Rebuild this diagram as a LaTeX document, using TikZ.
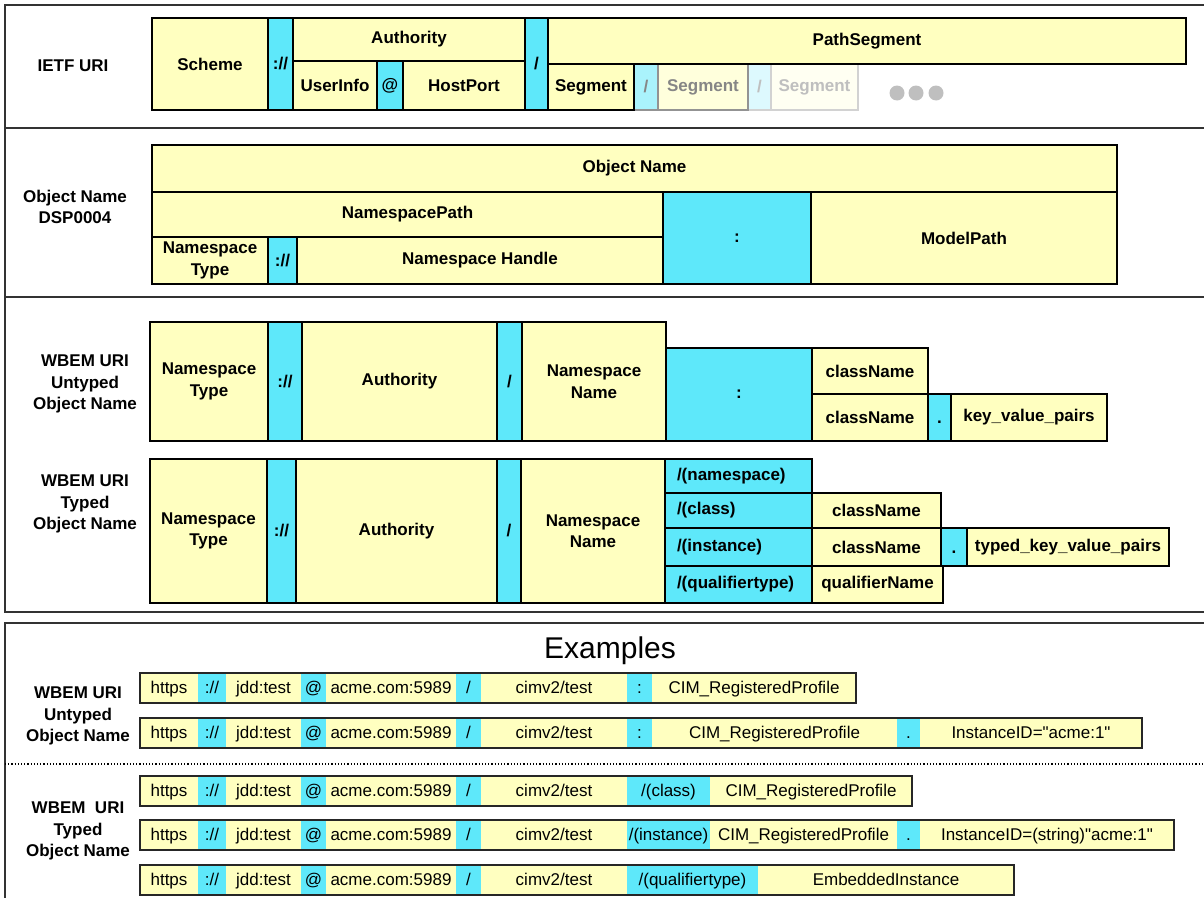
\documentclass[tikz,border=0pt]{standalone}
\usepackage{fontspec}
\setmainfont{Liberation Sans}
\usepackage{tikz}

\definecolor{ylw}{RGB}{255,255,192}
\definecolor{cyn}{RGB}{94,232,250}
\definecolor{cynA}{RGB}{170,243,252}
\definecolor{cynB}{RGB}{221,249,254}

\tikzset{
	frame/.style = {draw = black!80, line width = 1.6pt},
	cell/.style = {draw = black, line width = 2.8pt, fill = ylw, inner sep = 0pt, outer sep = 0pt, align = center, font = \bfseries\fontsize{17}{21.5}\selectfont},
	sepcell/.style = {cell, fill = cyn},
	dotcell/.style = {sepcell, text height = 12pt, text depth = 0pt},
	tagcell/.style = {sepcell, text width = 123pt, align = left},
	fadeA/.style = {cell, draw = gray!85, fill = ylw!55, text = gray!95},
	fadeAsep/.style = {fadeA, fill = cynA},
	fadeB/.style = {cell, draw = gray!35, fill = ylw!20, text = gray!50},
	fadeBsep/.style = {fadeB, fill = cynB},
	lbl/.style = {inner sep = 0pt, align = center, font = \bfseries\fontsize{17}{21.5}\selectfont},
	exttl/.style = {inner sep = 0pt, font = \fontsize{30}{36}\selectfont},
	excell/.style = {fill = ylw, inner sep = 0pt, outer sep = 0pt, text height = 12pt, text depth = 2pt, font = \fontsize{17}{20}\selectfont},
	exsep/.style = {excell, fill = cyn},
	exrow/.style = {draw = black!85, line width = 1.8pt}
}

% box from its corners (x1, y1) and (x2, y2)
\newcommand{\cellbox}[7]{%
	\pgfmathsetmacro{\cbw}{#4 - #2}%
	\pgfmathsetmacro{\cbh}{#5 - #3}%
	\node[#6, anchor = north west, minimum width = \cbw pt, minimum height = \cbh pt] (#1) at (#2, #3) {#7};%
}

\begin{document}
\begin{tikzpicture}[x = 1pt, y = -1pt]
	\useasboundingbox (0, 0) rectangle (1204, 897);
	\draw[frame] (5, 5) rectangle (1215, 612);
	\draw[frame] (5, 128) -- (1215, 128);
	\draw[frame] (5, 297) -- (1215, 297);
	\draw[frame] (5, 623) rectangle (1215, 910);
	\draw[dotted, line width = 1.2pt] (5, 764) -- (1204, 764);

	\node[lbl] (ietf) at (73, 66) {IETF URI};
	\node[lbl] (dsp) at (75, 207) {Object Name\\DSP0004};
	\node[lbl] (untyped) at (85, 384) {WBEM URI\\Untyped\\Object Name};
	\node[lbl] (typed) at (85, 504) {WBEM URI\\Typed\\Object Name};

	% IETF URI
	\cellbox{seg3}{771}{64}{858}{110}{fadeB}{Segment}
	\cellbox{sl3}{748}{64}{771}{110}{fadeBsep}{/}
	\cellbox{seg2}{658}{64}{748}{110}{fadeA}{Segment}
	\cellbox{sl2}{634}{64}{658}{110}{fadeAsep}{/}
	\cellbox{scheme}{152}{18}{268}{110}{cell}{Scheme}
	\cellbox{ss1}{268}{18}{293}{110}{sepcell}{://}
	\cellbox{auth}{293}{18}{525}{61}{cell}{Authority}
	\cellbox{uinfo}{293}{61}{377}{110}{cell}{UserInfo}
	\cellbox{at}{377}{61}{403}{110}{sepcell}{@}
	\cellbox{hport}{403}{61}{525}{110}{cell}{HostPort}
	\cellbox{sl1}{525}{18}{548}{110}{sepcell}{/}
	\cellbox{pseg}{548}{18}{1186}{64}{cell}{PathSegment}
	\cellbox{seg1}{548}{64}{634}{110}{cell}{Segment}
	\foreach \d in {897, 916, 936}
	\fill[gray!50] (\d, 93) circle (7.5);

	% Object Name DSP0004
	\cellbox{oname}{152}{145}{1117}{192}{cell}{Object Name}
	\cellbox{npath}{152}{192}{663}{237}{cell}{NamespacePath}
	\cellbox{ntype}{152}{237}{268}{284}{cell}{Namespace\\Type}
	\cellbox{ss2}{268}{237}{297}{284}{sepcell}{://}
	\cellbox{nhandle}{297}{237}{663}{284}{cell}{Namespace Handle}
	\cellbox{col2}{663}{192}{811}{284}{sepcell}{:}
	\cellbox{mpath}{811}{192}{1117}{284}{cell}{ModelPath}

	% WBEM URI untyped
	\cellbox{untype}{150}{322}{268}{441}{cell}{Namespace\\Type}
	\cellbox{uss}{268}{322}{302}{441}{sepcell}{://}
	\cellbox{uauth}{302}{322}{497}{441}{cell}{Authority}
	\cellbox{usl}{497}{322}{522}{441}{sepcell}{/}
	\cellbox{unname}{522}{322}{666}{441}{cell}{Namespace\\Name}
	\cellbox{ucol}{666}{348}{812}{441}{sepcell}{:}
	\cellbox{ucls1}{812}{348}{928}{394}{cell}{className}
	\cellbox{ucls2}{812}{394}{928}{441}{cell}{className}
	\cellbox{udot}{928}{394}{951}{441}{dotcell}{.}
	\cellbox{ukvp}{951}{394}{1107}{441}{cell}{key\_value\_pairs}

	% WBEM URI typed
	\cellbox{ttype}{150}{459}{267}{603}{cell}{Namespace\\Type}
	\cellbox{tss}{267}{459}{296}{603}{sepcell}{://}
	\cellbox{tauth}{296}{459}{497}{603}{cell}{Authority}
	\cellbox{tsl}{497}{459}{521}{603}{sepcell}{/}
	\cellbox{tnname}{521}{459}{665}{603}{cell}{Namespace\\Name}
	\cellbox{tns}{665}{459}{812}{493}{tagcell}{/(namespace)}
	\cellbox{tcl}{665}{493}{812}{528}{tagcell}{/(class)}
	\cellbox{tin}{665}{528}{812}{566}{tagcell}{/(instance)}
	\cellbox{tqt}{665}{566}{812}{603}{tagcell}{/(qualifiertype)}
	\cellbox{tcls1}{812}{493}{941}{528}{cell}{className}
	\cellbox{tcls2}{812}{528}{941}{566}{cell}{className}
	\cellbox{tdot}{941}{528}{967}{566}{dotcell}{.}
	\cellbox{tkvp}{967}{528}{1169}{566}{cell}{typed\_key\_value\_pairs}
	\cellbox{tqname}{812}{566}{943}{603}{cell}{qualifierName}

	% Examples
	\node[exttl] (examples) at (610, 651) {Examples};
	\node[lbl] (exuntyped) at (78, 716) {WBEM URI\\Untyped\\Object Name};
	\node[lbl] (extyped) at (78, 831) {WBEM~ URI\\Typed\\Object Name};

	\foreach \r/\y in {a/673, b/718, c/776, d/820, e/865} {
		\cellbox{\r1}{140}{\y}{198}{\y + 30}{excell}{https}
		\cellbox{\r2}{198}{\y}{226}{\y + 30}{exsep}{://}
		\cellbox{\r3}{226}{\y}{301}{\y + 30}{excell}{jdd:test}
		\cellbox{\r4}{301}{\y}{326}{\y + 30}{exsep}{@}
		\cellbox{\r5}{326}{\y}{456}{\y + 30}{excell}{acme.com:5989}
		\cellbox{\r6}{456}{\y}{481}{\y + 30}{exsep}{/}
		\cellbox{\r7}{481}{\y}{627}{\y + 30}{excell}{cimv2/test}
	}

	\cellbox{a8}{627}{673}{652}{703}{exsep}{:}
	\cellbox{a9}{652}{673}{856}{703}{excell}{CIM\_RegisteredProfile}

	\cellbox{b8}{627}{718}{652}{748}{exsep}{:}
	\cellbox{b9}{652}{718}{897}{748}{excell}{CIM\_RegisteredProfile}
	\cellbox{b10}{897}{718}{920}{748}{exsep}{.}
	\cellbox{b11}{920}{718}{1142}{748}{excell}{InstanceID=\textquotedbl acme:1\textquotedbl}

	\cellbox{c8}{627}{776}{710}{806}{exsep}{/(class)}
	\cellbox{c9}{710}{776}{912}{806}{excell}{CIM\_RegisteredProfile}

	\cellbox{d8}{627}{820}{710}{850}{exsep}{/(instance)}
	\cellbox{d9}{710}{820}{897}{850}{excell}{CIM\_RegisteredProfile}
	\cellbox{d10}{897}{820}{920}{850}{exsep}{.}
	\cellbox{d11}{920}{820}{1174}{850}{excell}{InstanceID=(string)\textquotedbl acme:1\textquotedbl}

	\cellbox{e8}{627}{865}{758}{895}{exsep}{/(qualifiertype)}
	\cellbox{e9}{758}{865}{1014}{895}{excell}{EmbeddedInstance}

	\draw[exrow] (a1.north west) rectangle (a9.south east);
	\draw[exrow] (b1.north west) rectangle (b11.south east);
	\draw[exrow] (c1.north west) rectangle (c9.south east);
	\draw[exrow] (d1.north west) rectangle (d11.south east);
	\draw[exrow] (e1.north west) rectangle (e9.south east);
\end{tikzpicture}
\end{document}
